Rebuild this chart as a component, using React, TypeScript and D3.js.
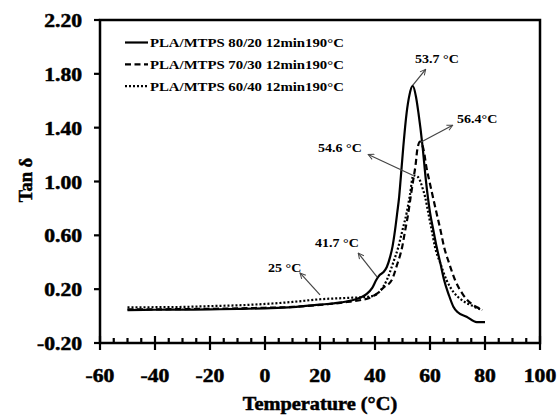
import React from "react";
import * as d3 from "d3";

// ---- data ----
const s1T = [-50, -40, -30, -20, -10, 0, 10, 20, 25, 30, 33, 35, 37, 39, 40.5, 41.7, 43, 44.3, 45.5, 46.4, 47.3, 48.1, 48.8, 49.3, 50.3, 51.5, 52.5, 53.7, 54.9, 55.8, 57.3, 58.5, 60, 61.2, 62.4, 63.8, 65.1, 66.8, 68.5, 70, 73.3, 77, 80];
const s1V = [0.045, 0.047, 0.048, 0.05, 0.053, 0.058, 0.066, 0.085, 0.095, 0.11, 0.125, 0.14, 0.165, 0.21, 0.27, 0.305, 0.325, 0.365, 0.44, 0.52, 0.64, 0.77, 0.89, 1.01, 1.26, 1.51, 1.64, 1.71, 1.63, 1.51, 1.26, 1.01, 0.77, 0.64, 0.515, 0.39, 0.27, 0.16, 0.07, 0.03, -0.005, -0.045, -0.045];

const s2T = [-50, -40, -30, -20, -10, 0, 10, 20, 30, 35, 38, 40.6, 43, 46.1, 48, 49.9, 51, 52.1, 53, 53.9, 54.8, 55.4, 56.4, 57.2, 58, 58.5, 59.7, 61, 62.4, 63.8, 65.1, 67, 69.1, 72, 75.8, 79];
const s2V = [0.05, 0.05, 0.052, 0.054, 0.057, 0.062, 0.068, 0.083, 0.105, 0.12, 0.135, 0.165, 0.21, 0.268, 0.38, 0.515, 0.64, 0.764, 0.89, 1.01, 1.13, 1.24, 1.296, 1.27, 1.2, 1.13, 1.01, 0.89, 0.764, 0.64, 0.515, 0.39, 0.268, 0.16, 0.08, 0.05];

const s3T = [-50, -40, -30, -20, -10, 0, 10, 20, 30, 35, 38, 40, 42, 44.3, 46.5, 48.5, 50, 51.5, 52.7, 53.9, 55.5, 56.5, 57.3, 58.2, 59.4, 60.6, 61.8, 63.8, 66, 68.5, 71.5, 75, 79];
const s3V = [0.065, 0.066, 0.068, 0.074, 0.08, 0.09, 0.105, 0.125, 0.135, 0.14, 0.145, 0.155, 0.19, 0.268, 0.39, 0.515, 0.64, 0.766, 0.9, 1.045, 1.035, 1.0, 0.95, 0.887, 0.764, 0.64, 0.515, 0.39, 0.268, 0.18, 0.12, 0.08, 0.045];

const seriesNames = ["PLA/MTPS 80/20 12min190°C", "PLA/MTPS 70/30 12min190°C", "PLA/MTPS 60/40 12min190°C"];
const seriesDash = ["none", "6,3.5", "2,2"];

const xTicks = [-60, -40, -20, 0, 20, 40, 60, 80, 100];
const yTicks = [-0.2, 0.2, 0.6, 1.0, 1.4, 1.8, 2.2];

// annotations: label, anchor point on curve (t, v), arrow end offset & text position in px
const annLabels = ["53.7 °C", "56.4°C", "54.6 °C", "41.7 °C", "25 °C"];
const annT = [53.7, 56.6, 53.9, 40.8, 20];
const annV = [1.715, 1.292, 1.045, 0.29, 0.157];
const annDx = [13, 32, -45, -19, -20];
const annDy = [-16, -17, -21, -24, -22];
const annTx = [415, 457, 318, 315, 268];
const annTy = [63, 123, 152, 247, 272];

const W = 558, H = 416;
const FONT = "Liberation Serif";

export default function App() {
  const x = d3.scaleLinear().domain([-60, 100]).range([100, 540]);
  const y = d3.scaleLinear().domain([-0.2, 2.2]).range([343, 20]);
  const line = d3
    .line<[number, number]>()
    .x((d) => x(d[0]))
    .y((d) => y(d[1]))
    .curve(d3.curveMonotoneX);

  const series = [
    d3.zip(s1T, s1V) as [number, number][],
    d3.zip(s2T, s2V) as [number, number][],
    d3.zip(s3T, s3V) as [number, number][],
  ];

  const minor = d3.range(-60, 101, 5).filter((t) => t % 20 !== 0);
  const fmt = (v: number) => d3.format(".2f")(v).replace("\u2212", "-");
  const ts = { fontFamily: FONT, fontWeight: 700 } as React.CSSProperties;
  const heavy = { fontFamily: FONT, fontWeight: 700, stroke: "#000", strokeWidth: 0.5 } as React.CSSProperties;

  return (
    <svg width={W} height={H} style={{ position: "absolute", left: 0, top: 0, background: "#fff" }}>
      <defs>
        <marker id="arr" viewBox="0 0 10 10" refX="9" refY="5" markerWidth="7" markerHeight="7" orient="auto" markerUnits="userSpaceOnUse">
          <path d="M1,1 L9,5 L1,9" fill="none" stroke="#444" strokeWidth="1.4" />
        </marker>
      </defs>
      <rect x={0} y={0} width={W} height={H} fill="#fff" />

      {/* curves */}
      {series.map((s, i) => (
        <path key={i} d={line(s) || ""} fill="none" stroke="#000" strokeWidth={2.2} strokeDasharray={seriesDash[i]} />
      ))}

      {/* frame */}
      <rect x={x(-60)} y={y(2.2)} width={x(100) - x(-60)} height={y(-0.2) - y(2.2)} fill="none" stroke="#000" strokeWidth={2.5} />

      {/* x ticks */}
      {xTicks.map((t) => (
        <line key={"xt" + t} x1={x(t)} x2={x(t)} y1={y(-0.2) - 7} y2={y(-0.2) + 7} stroke="#000" strokeWidth={2.2} />
      ))}
      {minor.map((t) => (
        <line key={"xm" + t} x1={x(t)} x2={x(t)} y1={y(-0.2) - 5} y2={y(-0.2)} stroke="#000" strokeWidth={2.2} />
      ))}
      {xTicks.map((t) => (
        <text key={"xl" + t} style={heavy} transform={`translate(${x(t)},382) scale(1.2,1)`} textAnchor="middle" fontSize={18}>
          {String(t)}
        </text>
      ))}

      {/* y ticks */}
      {yTicks.map((v) => (
        <line key={"yt" + v} x1={x(-60) - 6} x2={x(-60)} y1={y(v)} y2={y(v)} stroke="#000" strokeWidth={2.2} />
      ))}
      {yTicks.map((v) => (
        <text key={"yl" + v} style={heavy} transform={`translate(82,${y(v) + 7}) scale(1.2,1)`} textAnchor="end" fontSize={18}>
          {fmt(v)}
        </text>
      ))}

      {/* axis titles */}
      <text style={heavy} transform="translate(320,410) scale(1.1,1)" textAnchor="middle" fontSize={18.5}>
        Temperature (°C)
      </text>
      <text style={heavy} transform="translate(32,180) rotate(-90)" textAnchor="middle" fontSize={18.5}>
        Tan δ
      </text>

      {/* legend */}
      {seriesNames.map((n, i) => {
        const ly = 42.5 + i * 21.8;
        return (
          <g key={"lg" + i}>
            <line x1={125} x2={148} y1={ly} y2={ly} stroke="#000" strokeWidth={2.2} strokeDasharray={seriesDash[i]} />
            <text style={ts} transform={`translate(150,${ly + 4.5}) scale(1.12,1)`} fontSize={13.2}>
              {n}
            </text>
          </g>
        );
      })}

      {/* annotations */}
      {annLabels.map((lab, i) => {
        const px = x(annT[i]);
        const py = y(annV[i]);
        return (
          <g key={"an" + i}>
            <line x1={px} y1={py} x2={px + annDx[i]} y2={py + annDy[i]} stroke="#444" strokeWidth={1.2} markerEnd="url(#arr)" />
            <text style={ts} transform={`translate(${annTx[i]},${annTy[i]}) scale(1.08,1)`} fontSize={13}>
              {lab}
            </text>
          </g>
        );
      })}
    </svg>
  );
}
